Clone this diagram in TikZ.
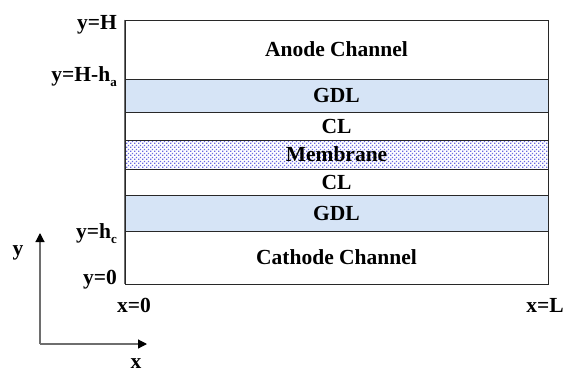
\documentclass[tikz,border=0pt]{standalone}
\usepackage{fontspec}
\setmainfont{Liberation Serif}
\usetikzlibrary{arrows.meta,patterns.meta}
\tikzdeclarepattern{
  name=memdots,
  type=uncolored,
  bounding box={(0pt,0pt) and (3.6pt,3.6pt)},
  tile size={(3.6pt,3.6pt)},
  code={
    \fill (0.2pt,0.2pt) rectangle (1.6pt,1.6pt);
    \fill (2pt,2pt) rectangle (3.4pt,3.4pt);
  }
}
\definecolor{gdlblue}{RGB}{214,228,246}
\definecolor{memdot}{RGB}{105,105,225}
\definecolor{edge}{RGB}{40,40,40}
\definecolor{axisgray}{RGB}{110,110,110}
\newcommand{\subsc}[1]{\raisebox{-5pt}{\fontsize{13}{13}\selectfont #1}}
\begin{document}
\begin{tikzpicture}[x=1pt,y=-1pt,
  txt/.style={font=\fontsize{21.5}{21.5}\selectfont\bfseries, inner sep=0pt},
  layer/.style={draw=edge, line width=0.9pt, minimum width=423pt, inner sep=0pt, txt},
  gdl/.style={layer, fill=gdlblue},
  mem/.style={layer, pattern={memdots}, pattern color=memdot},
  axisline/.style={draw=axisgray, line width=1.2pt, -{Triangle[length=9pt,width=9pt,color=black]}}
]
\useasboundingbox (0,0) rectangle (565,373);
% layers
\node[layer, minimum height=59pt] (anode) at (336.5,49.5) {Anode Channel};
\node[gdl, minimum height=33pt] (gdla) at (336.5,95.5) {GDL};
\node[layer, minimum height=28pt] (cla) at (336.5,126) {CL};
\node[mem, minimum height=29pt] (mem) at (336.5,154.5) {Membrane};
\node[layer, minimum height=26pt] (clc) at (336.5,182) {CL};
\node[gdl, minimum height=36pt] (gdlc) at (336.5,213) {GDL};
\node[layer, minimum height=53pt] (cathode) at (336.5,257.5) {Cathode Channel};
% left edge slightly gray
\draw[draw=axisgray, line width=1.4pt] (anode.north west) -- (cathode.south west);
% boundary labels
\node[txt, anchor=base east] (lH) at (117,29) {y=H};
\node[txt, anchor=base east] (lHa) at (117,81) {y=H-h\subsc{a}};
\node[txt, anchor=base east] (lhc) at (117,238) {y=h\subsc{c}};
\node[txt, anchor=base east] (l0) at (117,284) {y=0};
\node[txt, anchor=base west] (lx0) at (117,312) {x=0};
\node[txt, anchor=base east] (lxL) at (564,312) {x=L};
% axes
\coordinate (o) at (40,344);
\coordinate (yt) at (40,233);
\coordinate (xt) at (147,344);
\draw[axisline] (o) -- (yt);
\draw[axisline] (o) -- (xt);
\node[txt] (ylab) at (18,253) {y};
\node[txt] (xlab) at (136,364) {x};
\end{tikzpicture}
\end{document}
